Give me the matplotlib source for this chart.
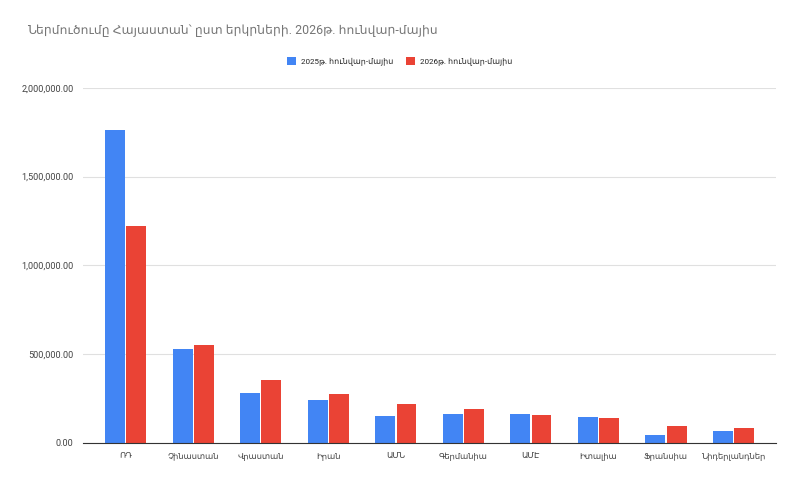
import numpy as np
import matplotlib.pyplot as plt
from matplotlib.ticker import FuncFormatter

plt.rcParams['font.family'] = ['Roboto', 'DejaVu Sans']

# data
erkrner = ['ՌԴ', 'Չինաստան', 'Վրաստան', 'Իրան', 'ԱՄՆ', 'Գերմանիա',
           'ԱՄԷ', 'Իտալիա', 'Ֆրանսիա', 'Նիդերլանդներ']
tari2025 = [1764000, 528000, 282000, 241000, 152000, 162000,
            162000, 145000, 43000, 66000]
tari2026 = [1222000, 551000, 355000, 277000, 220000, 192000,
            156000, 139000, 96000, 83000]
anun2025 = '2025թ. հունվար-մայիս'
anun2026 = '2026թ. հունվար-մայիս'
vernagir = 'Ներմուծումը Հայաստան՝ ըստ երկրների. 2026թ. հունվար-մայիս'

fig = plt.figure(figsize=(8, 4.82), dpi=100)
ax = fig.add_axes([0.104, 0.081, 0.866, 0.7366])

x = np.arange(len(erkrner))
w = 0.295
ax.bar(x - w/2 - 0.01, tari2025, w, color='#4285F4', label=anun2025, zorder=3)
ax.bar(x + w/2 + 0.01, tari2026, w, color='#EA4335', label=anun2026, zorder=3)

ax.set_xlim(-0.63, 9.63)
ax.set_ylim(0, 2000000)
ax.set_yticks([0, 500000, 1000000, 1500000, 2000000])
ax.yaxis.set_major_formatter(FuncFormatter(lambda v, p: f'{v:,.2f}'))
ax.set_xticks(x)
ax.set_xticklabels(erkrner, fontsize=6)

ax.grid(axis='y', color='#e0e0e0', linewidth=0.8, zorder=0)
for s in ['top', 'right', 'left']:
    ax.spines[s].set_visible(False)
ax.spines['bottom'].set_color('#333333')
ax.spines['bottom'].set_zorder(4)
ax.tick_params(axis='both', length=0, colors='#444444')
ax.tick_params(axis='y', labelsize=6.6, pad=7)
ax.tick_params(axis='x', pad=7)

fig.text(0.034, 0.937, vernagir, fontsize=8.9, color='#757575', va='center')
fig.legend(loc='center', bbox_to_anchor=(0.5, 0.872), ncol=2, frameon=False,
           fontsize=5.8, handlelength=1.1, handleheight=1.1, columnspacing=1.6,
           handletextpad=0.6, labelcolor='#222222')

fig.savefig('out.png', dpi=100)
